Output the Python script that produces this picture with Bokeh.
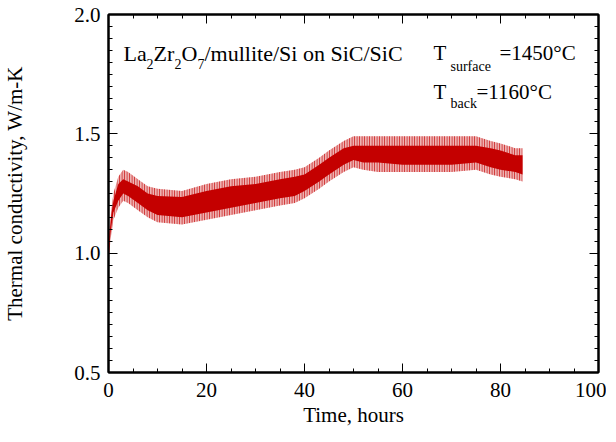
from bokeh.plotting import figure
from bokeh.layouts import column
from bokeh.models import (Range1d, LinearAxis, SingleIntervalTicker, PrintfTickFormatter, Label, Spacer)
from bokeh.embed import file_html
from bokeh.resources import INLINE

# ---- data ----
time_h = [0, 0.5, 1, 2, 3, 4, 6, 8, 10, 15, 20, 25, 30, 35, 38, 40, 43, 45, 48, 50,
          52, 55, 60, 65, 70, 75, 78, 80, 83, 84.5]
k_upper = [1.04, 1.17, 1.25, 1.32, 1.35, 1.34, 1.31, 1.28, 1.27, 1.26, 1.29, 1.31, 1.32, 1.34, 1.35,
           1.36, 1.40, 1.43, 1.47, 1.49, 1.49, 1.49, 1.49, 1.49, 1.49, 1.49, 1.47, 1.46, 1.44, 1.44]
k_lower = [0.97, 1.07, 1.14, 1.19, 1.22, 1.21, 1.18, 1.15, 1.13, 1.12, 1.14, 1.16, 1.18, 1.20, 1.21,
           1.23, 1.27, 1.30, 1.34, 1.36, 1.35, 1.34, 1.34, 1.34, 1.34, 1.35, 1.33, 1.32, 1.31, 1.30]
k_core_hi = [1.03, 1.15, 1.22, 1.29, 1.31, 1.30, 1.28, 1.25, 1.24, 1.235, 1.26, 1.28, 1.29, 1.31, 1.32,
             1.33, 1.37, 1.40, 1.44, 1.45, 1.45, 1.45, 1.45, 1.45, 1.45, 1.45, 1.44, 1.43, 1.41, 1.41]
k_core_lo = [0.99, 1.10, 1.17, 1.22, 1.25, 1.24, 1.21, 1.18, 1.16, 1.15, 1.17, 1.19, 1.21, 1.23, 1.24,
             1.26, 1.30, 1.33, 1.37, 1.39, 1.38, 1.38, 1.37, 1.37, 1.37, 1.38, 1.36, 1.35, 1.34, 1.33]

x_ticks_interval = 20
y_ticks_interval = 0.5

FONT = "Liberation Serif"
RED = "#c40000"

p = figure(frame_width=490, frame_height=358, output_backend="svg", toolbar_location=None,
           x_range=Range1d(0, 100), y_range=Range1d(0.5, 2.0),
           min_border_left=100, min_border_right=8, min_border_top=7, min_border_bottom=52)
p.grid.visible = False
p.background_fill_color = "white"
p.border_fill_color = "white"
p.outline_line_color = "black"
p.outline_line_width = 2

# noisy band: sparse spikes + dense core
p.varea(x=time_h, y1=k_lower, y2=k_upper, fill_color=RED, fill_alpha=0.3,
        hatch_pattern="|", hatch_color=RED, hatch_alpha=0.8, hatch_scale=2.5, hatch_weight=1)
p.varea(x=time_h, y1=k_core_lo, y2=k_core_hi, fill_color=RED, fill_alpha=1.0)

def style_axis(ax, show_labels=True):
    ax.axis_line_width = 2
    ax.major_tick_in = 9
    ax.major_tick_out = 0
    ax.minor_tick_in = 4
    ax.minor_tick_out = 0
    ax.major_tick_line_width = 1
    ax.minor_tick_line_width = 1
    ax.major_label_text_font = FONT
    ax.major_label_text_font_size = "21px"
    ax.major_label_text_color = "black"
    ax.axis_label_text_font = FONT
    ax.axis_label_text_font_size = "21px"
    ax.axis_label_text_font_style = "normal"
    ax.axis_label_text_color = "black"
    if not show_labels:
        ax.major_label_text_font_size = "0px"
        ax.major_label_text_alpha = 0
        ax.major_label_standoff = 0

xt = SingleIntervalTicker(interval=x_ticks_interval, num_minor_ticks=4)
yt = SingleIntervalTicker(interval=y_ticks_interval, num_minor_ticks=10)

xa = p.xaxis[0]
xa.ticker = xt
xa.axis_label = "Time, hours"
style_axis(xa)
xa.major_label_standoff = 10
xa.axis_label_standoff = 3

ya = p.yaxis[0]
ya.ticker = yt
ya.formatter = PrintfTickFormatter(format="%.1f")
ya.axis_label = "Thermal conductivity, W/m-K"
style_axis(ya)
ya.major_label_standoff = 8
ya.axis_label_standoff = 44

top = LinearAxis(ticker=SingleIntervalTicker(interval=x_ticks_interval, num_minor_ticks=4))
style_axis(top, show_labels=False)
p.add_layout(top, "above")
right = LinearAxis(ticker=SingleIntervalTicker(interval=y_ticks_interval, num_minor_ticks=10))
style_axis(right, show_labels=False)
p.add_layout(right, "right")

# pixel (page) -> data helpers for annotation placement
def dx(px):
    return (px - 108) / 4.9

def dy(py):
    return 2.0 - (py - 15) / 238.7

def lab(text, px, py, size):
    p.add_layout(Label(x=dx(px), y=dy(py), text=text, text_font=FONT,
                       text_font_size=size, text_align="left",
                       text_baseline="alphabetic", text_color="black"))

# La2Zr2O7/mullite/Si on SiC/SiC
lab("La", 123, 54, "22px")
lab("2", 146, 65, "14px")
lab("Zr", 153, 54, "22px")
lab("2", 174, 65, "14px")
lab("O", 181, 54, "22px")
lab("7", 197, 65, "14px")
lab("/mullite/Si on SiC/SiC", 204, 54, "22px")

# T_surface = 1450 C
lab("T", 433, 54, "21px")
lab("surface", 450, 67, "14px")
lab("=1450°C", 499, 54, "21px")
# T_back = 1160 C
lab("T", 433, 93, "21px")
lab("back", 450, 104, "14px")
lab("=1160°C", 476, 93, "21px")

page = column(Spacer(width=600, height=7), p)
open("out.html", "w").write(file_html(page, INLINE))
